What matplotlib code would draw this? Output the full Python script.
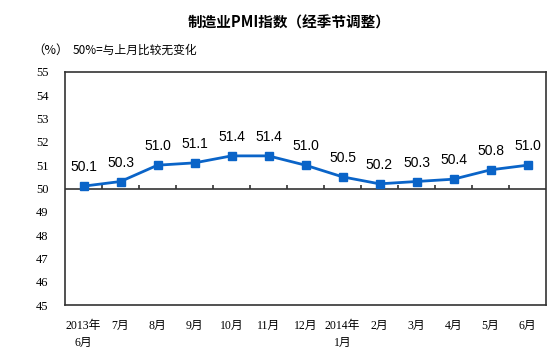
import matplotlib
matplotlib.use('Agg')
import matplotlib.pyplot as plt
import numpy as np

plt.rcParams['font.family'] = ['Liberation Serif', 'Noto Sans CJK SC', 'DejaVu Sans']

months = ['2013年\n6月', '7月', '8月', '9月', '10月', '11月', '12月',
          '2014年\n1月', '2月', '3月', '4月', '5月', '6月']
pmi = [50.1, 50.3, 51.0, 51.1, 51.4, 51.4, 51.0, 50.5, 50.2, 50.3, 50.4, 50.8, 51.0]
y_ticks = list(range(45, 56))

LINE_COLOR = '#0a64c8'

fig = plt.figure(figsize=(5.53, 3.64), dpi=100)
ax = fig.add_axes([65 / 553, 1 - 305 / 364, (546 - 65) / 553, (305 - 72) / 364])

x = np.arange(len(months))
ax.plot(x, pmi, color=LINE_COLOR, lw=2, marker='s', ms=5.5, zorder=3)
for xi, v in zip(x, pmi):
    ax.annotate('%.1f' % v, (xi, v), xytext=(0, 13.5), textcoords='offset points',
                ha='center', va='center', fontsize=10, family=['Liberation Sans'])

# 50线和分隔刻度
ax.axhline(50, color='#333333', lw=1.2, zorder=2)
ax.vlines(x[:-1] + 0.5, 50, 50.17, color='#333333', lw=1.2, zorder=2)

ax.set_xlim(-0.5, len(months) - 0.5)
ax.set_ylim(45, 55)
ax.set_yticks(y_ticks)
ax.set_yticklabels([str(t) for t in y_ticks], fontsize=9)
ax.set_xticks(x)
ax.set_xticklabels(months, fontsize=8.5, linespacing=1.5, va='top')
ax.tick_params(axis='y', length=0, pad=12)
ax.tick_params(axis='x', length=0, pad=11)
for s in ax.spines.values():
    s.set_color('#333333')
    s.set_linewidth(1.2)

fig.text(289 / 553, 1 - 23 / 364, '制造业PMI指数（经季节调整）', ha='center', va='center',
         fontsize=10.5, fontweight='bold', family=['Noto Sans CJK SC'])
fig.text(32 / 553, 1 - 50 / 364, '（%）', ha='left', va='center', fontsize=9,
         family=['Noto Sans CJK SC'])
fig.text(73 / 553, 1 - 50 / 364, '50%=与上月比较无变化', ha='left', va='center', fontsize=8.5,
         family=['Noto Sans CJK SC'])

fig.savefig('out.png', dpi=100)
